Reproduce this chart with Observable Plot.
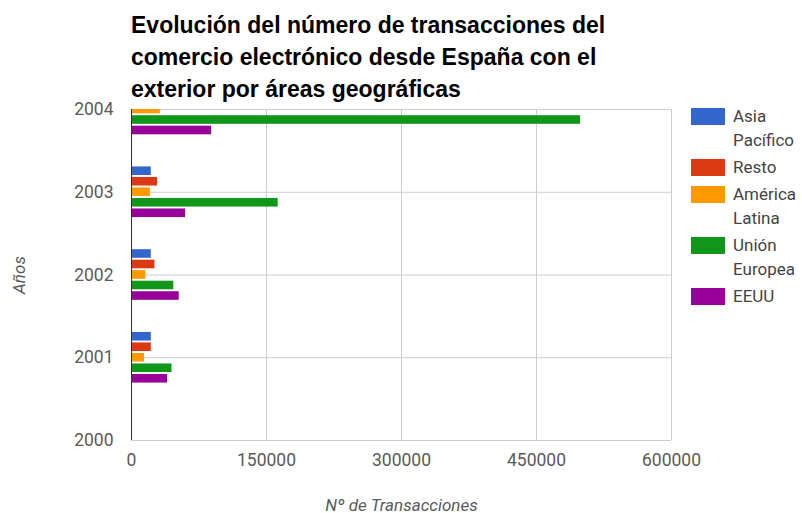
<!DOCTYPE html>
<html><head><meta charset="utf-8">
<script src="https://cdn.jsdelivr.net/npm/d3@7"></script>
<script src="https://cdn.jsdelivr.net/npm/@observablehq/plot@0.6"></script>
<style>
html,body{margin:0;padding:0;background:#fff}
body{width:802px;height:513px;position:relative;overflow:hidden;font-family:Roboto,"Liberation Sans",Arial,sans-serif}
#title{position:absolute;left:131px;top:9px;font-weight:bold;font-size:23px;font-family:"Liberation Sans",Arial,sans-serif;line-height:32px;color:#000;white-space:nowrap}
#chart{position:absolute;left:0;top:100px}
#legend{position:absolute;left:691px;top:104px;font-size:17px;color:#444;font-family:Roboto,sans-serif}
.item{display:flex;align-items:flex-start;margin-bottom:3px}
.sw{width:34px;height:17px;margin-top:4px;margin-right:8px;flex:none}
.lab{line-height:24px}
#chart svg [aria-label="x-axis label"] text,#chart svg [aria-label="y-axis label"] text{font-style:italic;font-size:17px}
</style></head>
<body>
<div id="title">Evolución del número de transacciones del<br>comercio electrónico desde España con el<br>exterior por áreas geográficas</div>
<div id="chart"></div>
<div id="legend"></div>
<script>
const years = [2001, 2002, 2003, 2004];
const series = ["Asia Pacífico", "Resto", "América Latina", "Unión Europea", "EEUU"];
const legendLines = [["Asia", "Pacífico"], ["Resto"], ["América", "Latina"], ["Unión", "Europea"], ["EEUU"]];
const colors = ["#3366cc", "#dc3912", "#ff9900", "#109618", "#990099"];
const asiaPacifico = [22000, 22000, 22000, null];
const resto = [22000, 26000, 29000, null];
const americaLatina = [14500, 16000, 21000, 32000];
const unionEuropea = [45000, 47000, 163000, 499000];
const eeuu = [40000, 53000, 60000, 89000];
const yearTicks = [2000, 2001, 2002, 2003, 2004];
const valueTicks = [0, 150000, 300000, 450000, 600000];

const seriesValues = [asiaPacifico, resto, americaLatina, unionEuropea, eeuu];
const rows = [];
seriesValues.forEach((vals, i) => {
  vals.forEach((v, j) => {
    if (v != null) rows.push({year: years[j], series: series[i], value: v, i});
  });
});
const step = 0.127, half = 0.052;

const chart = Plot.plot({
  width: 802, height: 413,
  marginLeft: 131, marginRight: 131, marginTop: 9, marginBottom: 73,
  style: {fontFamily: "Roboto, sans-serif", fontSize: "17.5px", color: "#5a5a5a", background: "transparent"},
  x: {domain: [0, 600000], ticks: valueTicks, tickFormat: d => String(d), tickSize: 0, tickPadding: 13,
      label: "Nº de Transacciones", labelAnchor: "center", labelOffset: 70, labelArrow: "none"},
  y: {domain: [2000, 2004], ticks: yearTicks, tickFormat: d => String(d), tickSize: 0, tickPadding: 18,
      label: "Años", labelAnchor: "center", labelOffset: 119, labelArrow: "none"},
  color: {domain: series, range: colors},
  marks: [
    Plot.gridX(valueTicks, {stroke: "#cccccc", strokeOpacity: 1, strokeWidth: 1}),
    Plot.gridY(yearTicks, {stroke: "#cccccc", strokeOpacity: 1, strokeWidth: 1}),
    Plot.rectX(rows, {
      x1: 0, x2: "value",
      y1: d => d.year + (2 - d.i) * step - half,
      y2: d => d.year + (2 - d.i) * step + half,
      fill: "series", clip: true
    }),
    Plot.ruleX([0], {stroke: "#333", strokeWidth: 1})
  ]
});
document.getElementById("chart").appendChild(chart);

const legend = document.getElementById("legend");
series.forEach((s, i) => {
  const item = document.createElement("div");
  item.className = "item";
  const sw = document.createElement("div");
  sw.className = "sw";
  sw.style.background = colors[i];
  const lab = document.createElement("div");
  lab.className = "lab";
  lab.innerHTML = legendLines[i].join("<br>");
  item.appendChild(sw); item.appendChild(lab);
  legend.appendChild(item);
});
</script>
</body></html>
